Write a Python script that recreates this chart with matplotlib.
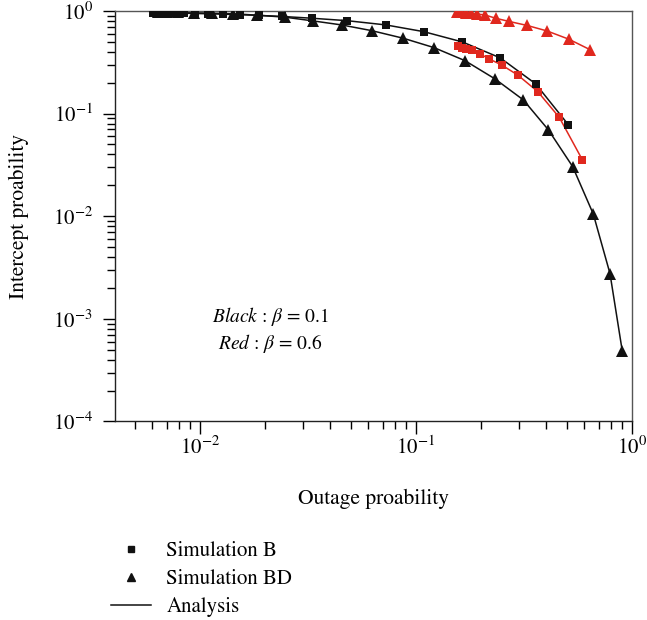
import matplotlib
matplotlib.use("Agg")
import matplotlib.pyplot as plt
from matplotlib.lines import Line2D

plt.rcParams['font.family'] = ['STIXGeneral', 'DejaVu Serif']
plt.rcParams['mathtext.fontset'] = 'stix'

# ---- data ----
# Black (beta = 0.1), Simulation B (squares)
b1_x = [0.00606, 0.00632, 0.00667, 0.00711, 0.00766, 0.00843, 0.00948, 0.01089,
        0.01277, 0.0153, 0.01875, 0.0239, 0.0329, 0.0478, 0.0726, 0.1085,
        0.164, 0.2456, 0.358, 0.507]
b1_y = [0.965, 0.963, 0.961, 0.958, 0.955, 0.951, 0.945, 0.94,
        0.93, 0.92, 0.905, 0.885, 0.85, 0.805, 0.731, 0.629,
        0.499, 0.349, 0.195, 0.078]
# Black (beta = 0.1), Simulation BD (triangles)
bd1_x = [0.0064, 0.00703, 0.00795, 0.00934, 0.01137, 0.01422, 0.01837, 0.02477,
         0.0334, 0.0453, 0.0624, 0.0874, 0.121, 0.1686, 0.232, 0.314,
         0.410, 0.531, 0.662, 0.791, 0.902]
bd1_y = [0.975, 0.972, 0.967, 0.96, 0.952, 0.94, 0.91, 0.87,
         0.80, 0.731, 0.643, 0.542, 0.44, 0.328, 0.218, 0.136,
         0.0695, 0.0305, 0.0105, 0.00276, 0.000483]
# Red (beta = 0.6), Simulation B (squares)
b6_x = [0.157, 0.163, 0.1703, 0.181, 0.198, 0.218, 0.249, 0.2955, 0.366, 0.4606, 0.589]
b6_y = [0.456, 0.436, 0.427, 0.417, 0.3815, 0.341, 0.298, 0.238, 0.164, 0.0919, 0.0355]
# Red (beta = 0.6), Simulation BD (triangles)
bd6_x = [0.155, 0.1615, 0.170, 0.1798, 0.1916, 0.2087, 0.234, 0.2704, 0.3276, 0.404, 0.51, 0.639]
bd6_y = [0.978, 0.971, 0.962, 0.952, 0.935, 0.914, 0.849, 0.79, 0.722, 0.639, 0.531, 0.42]

x_ticks = [1e-2, 1e-1, 1e0]
y_ticks = [1e-4, 1e-3, 1e-2, 1e-1, 1e0]
legend_labels = ["Simulation B", "Simulation BD", "Analysis"]

RED = '#e0281e'
BLACK = '#111111'

fig = plt.figure(figsize=(6.47, 6.2), dpi=100)
ax = fig.add_axes([0.1777, 0.3202, 0.7991, 0.6621])

for xs, ys, c, m, ms in [(b1_x, b1_y, BLACK, 's', 6.2),
                         (bd1_x, bd1_y, BLACK, '^', 8.5),
                         (b6_x, b6_y, RED, 's', 6.2),
                         (bd6_x, bd6_y, RED, '^', 8.5)]:
    ax.plot(xs, ys, '-', color=c, lw=1.1, zorder=2)
    ax.plot(xs, ys, linestyle='none', marker=m, color=c, markersize=ms,
            markeredgewidth=0, zorder=3)

ax.set_xscale('log')
ax.set_yscale('log')
ax.set_xlim(0.00404, 1.0)
ax.set_ylim(1e-4, 1.0)
ax.set_xticks(x_ticks)
ax.set_yticks(y_ticks)

ax.tick_params(which='major', direction='out', length=9, width=1.0,
               labelsize=15, pad=2, top=False, right=False)
ax.tick_params(which='minor', direction='out', length=6, width=1.0,
               top=False, right=False)
ax.tick_params(axis='y', which='major', pad=7)

for s in ax.spines.values():
    s.set_linewidth(1.0)
    s.set_color('#222222')
for s in ('top', 'right'):
    ax.spines[s].set_color('#555555')

ax.set_xlabel('Outage proability', fontsize=15.5, labelpad=21)
ax.set_ylabel('Intercept proability', fontsize=15.5, labelpad=17)

ax.text(0.30, 0.255, r'$\mathit{Black}$ : $\beta$ = 0.1', transform=ax.transAxes,
        ha='center', va='center', fontsize=14)
ax.text(0.30, 0.19, r'$\mathit{Red}$ : $\beta$ = 0.6', transform=ax.transAxes,
        ha='center', va='center', fontsize=14)

handles = [Line2D([], [], linestyle='none', marker='s', color=BLACK, markersize=5),
           Line2D([], [], linestyle='none', marker='^', color=BLACK, markersize=6),
           Line2D([], [], linestyle='-', color=BLACK, lw=1.1)]
fig.legend(handles, legend_labels, loc='upper left', bbox_to_anchor=(0.172, 0.127),
           frameon=False, fontsize=15, handlelength=1.9, handletextpad=0.75,
           labelspacing=0.4, borderaxespad=0, borderpad=0)

fig.savefig('out.png', dpi=100)
